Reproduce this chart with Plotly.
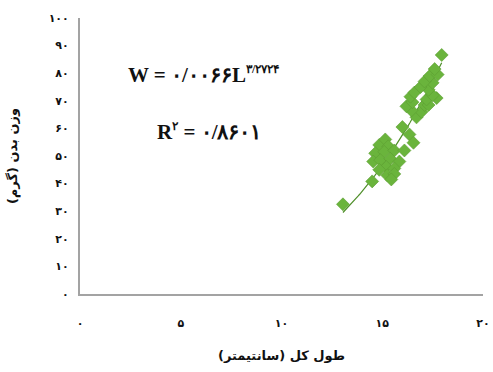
import numpy as np
import plotly.graph_objects as go

# Total length (cm) and body weight (g) of the measured specimens
length_cm = [
    13.05, 14.50, 14.85, 15.15, 15.30, 14.65, 15.10, 15.60, 16.10, 14.55,
    14.90, 15.40, 15.85, 15.20, 15.60, 14.85, 15.25, 15.60, 15.45, 16.00,
    16.35, 16.55, 16.70, 16.95, 16.45, 16.20, 17.10, 17.30, 16.50, 17.20,
    17.70, 17.50, 16.40, 16.60, 17.30, 16.90, 17.50, 17.10, 17.35, 17.75,
    17.60, 17.95,
]
weight_g = [
    32.5, 40.8, 54.0, 56.0, 53.5, 51.0, 51.5, 52.0, 52.0, 48.0,
    48.5, 49.0, 48.0, 46.0, 45.5, 45.0, 43.0, 43.5, 41.5, 60.5,
    57.8, 54.8, 64.0, 66.0, 66.5, 68.0, 68.5, 68.5, 69.5, 70.5,
    71.0, 72.0, 71.5, 73.0, 74.0, 75.0, 76.5, 77.0, 79.0, 79.5,
    81.5, 86.6,
]

# Power-law fit W = a * L^b and its coefficient of determination
fit_a = 0.0066
fit_b = 3.2724
fit_r2 = 0.8601

x_ticks = [0, 5, 10, 15, 20]
y_ticks = [0, 10, 20, 30, 40, 50, 60, 70, 80, 90, 100]

FA = str.maketrans("0123456789.", "۰۱۲۳۴۵۶۷۸۹/")


def fa(v):
    return str(v).translate(FA)


green = "#6ab43c"
green_dark = "#4f8f2a"

fig = go.Figure()

fit_x = np.linspace(min(length_cm), max(length_cm), 60)
fig.add_trace(go.Scatter(
    x=fit_x, y=fit_a * fit_x ** fit_b, mode="lines",
    line=dict(color=green_dark, width=1.2), hoverinfo="skip", showlegend=False,
))
fig.add_trace(go.Scatter(
    x=length_cm, y=weight_g, mode="markers",
    marker=dict(symbol="diamond", size=10, color=green,
                line=dict(color="#5c9e33", width=0.6)),
    showlegend=False,
))

eq_font = dict(family="Liberation Serif, DejaVu Serif", size=21, color="#111111", weight="bold")
sup_style = "font-size:12px"
fig.add_annotation(
    xref="paper", yref="paper", x=0.115, y=0.795, xanchor="left", yanchor="middle",
    text=f"W = {fa(fit_a)}L<sup><span style='{sup_style}'>{fa(fit_b)}</span></sup>",
    showarrow=False, font=eq_font,
)
fig.add_annotation(
    xref="paper", yref="paper", x=0.185, y=0.59, xanchor="left", yanchor="middle",
    text=f"R<sup><span style='{sup_style}'>{fa(2)}</span></sup> = {fa(fit_r2)}",
    showarrow=False, font=eq_font,
)

tick_font = dict(family="DejaVu Sans", size=11, color="#111111", weight="bold")
title_font = dict(family="DejaVu Sans", size=13, color="#111111", weight="bold")

fig.update_xaxes(
    range=[0, 20], tickvals=x_ticks, ticktext=[fa(v) for v in x_ticks],
    showgrid=False, zeroline=False, showline=True, linecolor="#a3a3a3", linewidth=2,
    ticks="", tickfont=tick_font, ticklabelstandoff=18, automargin=False,
    title=dict(text="طول کل (سانتیمتر)", font=title_font, standoff=22),
)
fig.update_yaxes(
    range=[0, 100], tickvals=y_ticks, ticktext=[fa(v) for v in y_ticks],
    showgrid=False, zeroline=False, showline=True, linecolor="#a3a3a3", linewidth=2,
    ticks="", tickfont=tick_font, ticklabelstandoff=7, automargin=False,
    title=dict(text="وزن بدن (گرم)", font=title_font, standoff=28),
)

fig.update_layout(
    width=493, height=372,
    margin=dict(l=80, r=10, t=18, b=78),
    paper_bgcolor="white", plot_bgcolor="white",
)

fig.write_html("out.html")
